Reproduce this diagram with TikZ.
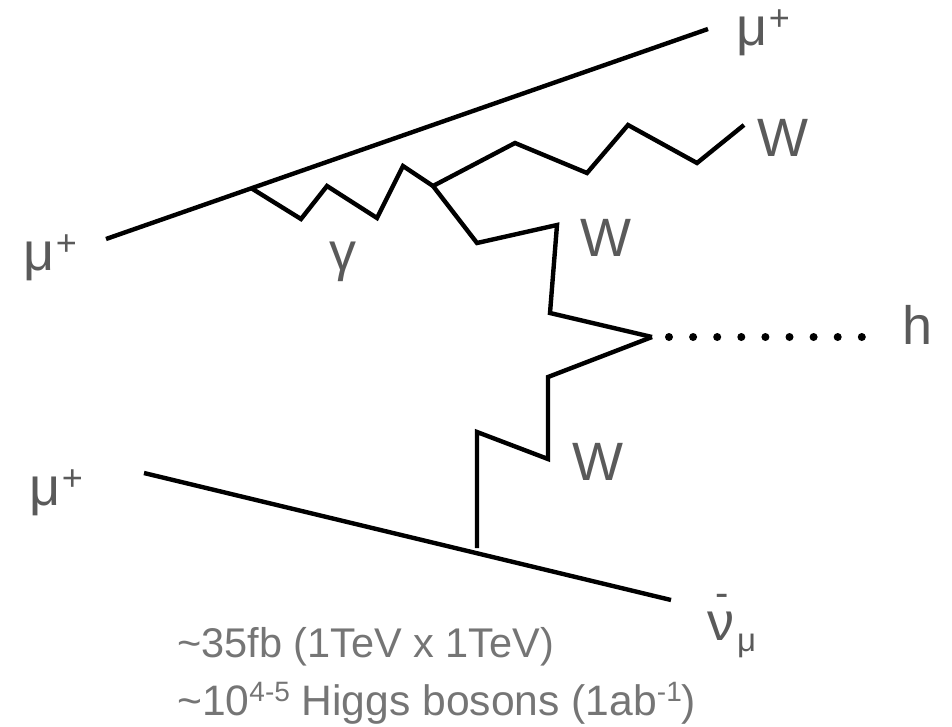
\documentclass[tikz,border=0pt]{standalone}
\usepackage{fontspec}
\setmainfont{Liberation Sans}
\definecolor{lab}{HTML}{5A5A5A}
\definecolor{cap}{HTML}{757575}
\newcommand{\supm}{\kern1.5pt\raisebox{15pt}{\fontsize{36}{36}\selectfont +}}
\newcommand{\capsup}[1]{\raisebox{14pt}{\fontsize{28}{28}\selectfont #1}}
\tikzset{
 fermion/.style={draw=black,line width=4.4pt},
 boson/.style={draw=black,line width=4.4pt,line join=miter},
 higgsdot/.style={circle,fill=black,inner sep=0pt,minimum size=8pt},
 lbl/.style={text=lab,font=\fontsize{54}{54}\selectfont,inner sep=0pt},
 caplbl/.style={text=cap,font=\fontsize{41.5}{41.5}\selectfont,inner sep=0pt,anchor=west},
}
\begin{document}
\begin{tikzpicture}[x=1pt,y=-1pt]
\useasboundingbox (0,0) rectangle (952,726);
\coordinate (a1) at (106,239);
\coordinate (a2) at (708,29);
\coordinate (b1) at (144,473);
\coordinate (b2) at (671,600);
\coordinate (v1) at (251,188);
\coordinate (v2) at (433,186);
\coordinate (v3) at (652,337);
\coordinate (v4) at (477,548);
\coordinate (wend) at (744,125);
\draw[fermion] (a1) -- (a2);
\draw[fermion] (b1) -- (b2);
\draw[boson] (v1) -- (301,219) -- (327,186) -- (377,218) -- (403,166) -- (v2);
\draw[boson] (v2) -- (515,143) -- (587,173) -- (628,125) -- (697,163) -- (wend);
\draw[boson] (v2) -- (477,243) -- (557,225) -- (550,313) -- (v3);
\draw[boson] (v3) -- (548,377) -- (548,459) -- (477,432) -- (v4);
\foreach \i in {0,...,8} \node[higgsdot] (d\i) at (669+24.1*\i,337) {};
\node[lbl] (mu1) at (50,258) {μ\supm};
\node[lbl] (mu2) at (763,33) {μ\supm};
\node[lbl] (mu3) at (56,493) {μ\supm};
\node[lbl] (gam) at (343,262) {γ};
\node[lbl] (w1) at (783,138) {W};
\node[lbl] (w2) at (606,238) {W};
\node[lbl] (w3) at (598,462) {W};
\node[lbl] (h) at (918,325) {h};
\node[lbl,anchor=base west] (nu) at (707,640) {ν\kern3pt\raisebox{-11pt}{\fontsize{33}{33}\selectfont μ}};
\node[lbl,font=\fontsize{40}{40}\selectfont] (bar) at (722,600) {-};
\node[caplbl] (c1) at (177,647) {\textasciitilde 35fb (1TeV x 1TeV)};
\node[caplbl,font=\fontsize{42.6}{42.6}\selectfont] (c2) at (177,703) {\textasciitilde 10\capsup{4-5} Higgs bosons (1ab\capsup{-1})};
\end{tikzpicture}
\end{document}
